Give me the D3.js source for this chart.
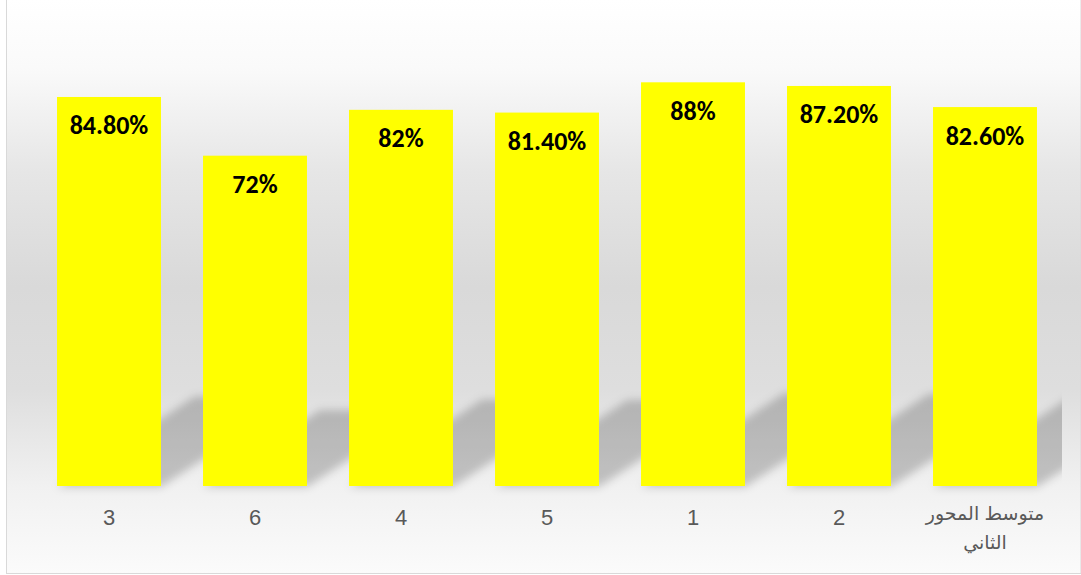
<!DOCTYPE html>
<html>
<head>
<meta charset="utf-8">
<script src="https://cdn.jsdelivr.net/npm/d3@7/dist/d3.min.js"></script>
<style>
  html, body { margin: 0; padding: 0; background: #ffffff; }
  svg { display: block; }
</style>
</head>
<body>
<script>
// Categories (left to right) and their percentage scores
const categories = ["3", "6", "4", "5", "1", "2", "متوسط المحور الثاني"];
const values = [84.8, 72, 82, 81.4, 88, 87.2, 82.6];
const yDomain = [0, 100];

const W = 1081, H = 575;
const frame = { left: 6.5, top: -1, right: 1081, bottom: 573.5 };
const plot = { left: 36, right: 1058, top: 27.25, bottom: 486 };

const svg = d3.select("body").append("svg")
  .attr("width", W).attr("height", H);

const defs = svg.append("defs");

// Vertical chart-area gradient: white at the top, grey band in the middle, pale at the bottom
const grad = defs.append("linearGradient")
  .attr("id", "bg").attr("x1", 0).attr("y1", 0).attr("x2", 0).attr("y2", 1);
[[0, "#ffffff"], [0.12, "#fafafa"], [0.3, "#e6e6e6"], [0.5, "#d9d9d9"],
 [0.68, "#dedede"], [0.85, "#f1f1f1"], [1, "#fbfbfb"]]
  .forEach(([o, c]) => grad.append("stop").attr("offset", o).attr("stop-color", c));

// Soft blur for the perspective shadows
defs.append("filter").attr("id", "soft")
  .attr("x", "-20%").attr("y", "-20%").attr("width", "140%").attr("height", "140%")
  .append("feGaussianBlur").attr("stdDeviation", 4);

defs.append("clipPath").attr("id", "plotClip")
  .append("rect").attr("x", plot.left).attr("y", 0)
  .attr("width", 1062 - plot.left).attr("height", plot.bottom + 10);

// Chart area with border
svg.append("rect")
  .attr("x", frame.left).attr("y", frame.top)
  .attr("width", frame.right - frame.left).attr("height", frame.bottom - frame.top)
  .attr("fill", "url(#bg)").attr("stroke", "#d9d9d9").attr("stroke-width", 1);

const x = d3.scaleBand()
  .domain(categories)
  .range([plot.left, plot.right])
  .paddingInner(0.288)
  .paddingOuter(0.144);

const y = d3.scaleLinear().domain(yDomain).range([plot.bottom, plot.top]);

const data = categories.map((c, i) => ({ cat: c, value: values[i] }));

// Perspective shadows cast diagonally toward the upper right
const slope = 0.65, shadowScale = 0.23;
svg.append("g").attr("clip-path", "url(#plotClip)")
  .append("g").attr("filter", "url(#soft)")
  .selectAll("path").data(data).join("path")
  .attr("d", d => {
    const x0 = x(d.cat), x1 = x0 + x.bandwidth();
    const b = y(0);
    const h = (y(0) - y(d.value)) * shadowScale;
    const dx = h / slope;
    return `M${x0},${b + 1}L${x1},${b + 1}L${x1 + dx},${b - h}L${x0 + dx},${b - h}Z`;
  })
  .attr("fill", "#000").attr("fill-opacity", 0.2);

// Bars
svg.append("g").selectAll("rect").data(data).join("rect")
  .attr("x", d => x(d.cat))
  .attr("y", d => y(d.value))
  .attr("width", x.bandwidth())
  .attr("height", d => y(0) - y(d.value))
  .attr("fill", "#ffff00");

// Value labels inside the top of each bar
const fmt = v => Number.isInteger(v) ? `${v}%` : `${v.toFixed(2)}%`;
svg.append("g").selectAll("text").data(data).join("text")
  .attr("x", d => x(d.cat) + x.bandwidth() / 2)
  .attr("y", d => y(d.value) + 37.5)
  .attr("text-anchor", "middle")
  .attr("font-family", "Carlito, Lato, sans-serif")
  .attr("font-weight", "bold")
  .attr("font-size", 26)
  .attr("fill", "#000000")
  .text(d => fmt(d.value));

// Category axis labels (no axis line), long label wrapped onto two lines
const xAxis = d3.axisBottom(x).tickSize(0).tickPadding(0);
const axisG = svg.append("g")
  .attr("transform", `translate(0,${plot.bottom})`)
  .call(xAxis);
axisG.select(".domain").remove();
axisG.selectAll(".tick text")
  .attr("font-family", "'Liberation Sans', Arial, 'DejaVu Sans', sans-serif")
  .attr("font-size", 22)
  .attr("fill", "#595959")
  .attr("dy", null)
  .attr("y", 38.5)
  .each(function(d) {
    const words = d.split(" ");
    if (words.length > 2) {
      const t = d3.select(this).text(null);
      const lines = [words.slice(0, 2).join(" "), words.slice(2).join(" ")];
      lines.forEach((ln, i) => {
        t.append("tspan").attr("x", 0).attr("y", 34 + i * 29).text(ln);
      });
      t.attr("font-size", 19);
    }
  });
</script>
</body>
</html>
